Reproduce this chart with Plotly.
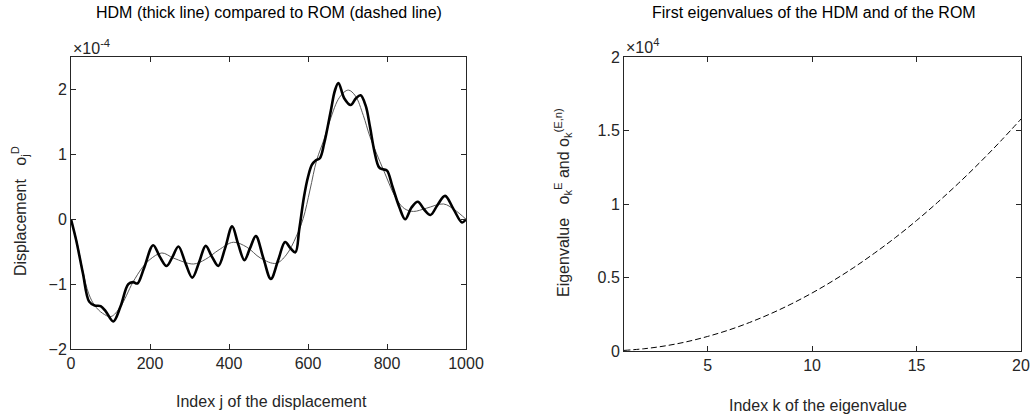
import plotly.graph_objects as go

# ---- Left panel data (displacement, units of 1e-4) ----
hdm_j = [0, 13, 30, 46, 60, 75, 88, 107, 125, 145, 157, 168, 185, 208, 225, 242, 257, 272,
         290, 307, 325, 341, 357, 373, 390, 408, 423, 439, 453, 468, 487, 506, 525, 542,
         556, 568, 578, 590, 600, 610, 620, 630, 641, 658, 668, 677, 692, 708, 721, 733,
         746, 757, 768, 780, 790, 800, 814, 831, 846, 862, 878, 894, 910, 928, 947, 968,
         990, 1000]
hdm_v = [0, -0.32, -0.83, -1.27, -1.33, -1.34, -1.42, -1.575, -1.35, -1.0, -0.97, -0.99,
         -0.75, -0.40, -0.58, -0.72, -0.58, -0.42, -0.68, -0.90, -0.65, -0.41, -0.58, -0.72,
         -0.45, -0.11, -0.38, -0.63, -0.45, -0.26, -0.60, -0.92, -0.62, -0.35, -0.45, -0.51,
         -0.15, 0.35, 0.65, 0.84, 0.91, 0.94, 1.17, 1.68, 1.98, 2.1, 1.86, 1.76, 1.86, 1.91,
         1.75, 1.42, 1.05, 0.80, 0.77, 0.75, 0.50, 0.19, 0.0, 0.18, 0.27, 0.15, 0.066, 0.22,
         0.36, 0.16, -0.05, 0.0]

rom_j = [0, 15, 30, 45, 60, 80, 101, 125, 156, 180, 200, 230, 260, 310, 340, 375, 411,
         445, 480, 519, 545, 570, 588, 605, 622, 640, 656, 680, 702, 720, 740, 757, 791,
         825, 845, 867, 900, 943, 970, 1000]
rom_v = [0, -0.35, -0.80, -1.15, -1.33, -1.45, -1.50, -1.35, -0.98, -0.75, -0.62, -0.52,
         -0.60, -0.69, -0.62, -0.47, -0.355, -0.43, -0.60, -0.68, -0.55, -0.27, 0.015, 0.45,
         0.91, 1.22, 1.53, 1.88, 1.99, 1.90, 1.60, 1.27, 0.76, 0.30, 0.16, 0.12, 0.17, 0.235,
         0.15, 0.0]

# ---- Right panel data (eigenvalues) ----
eig_k = list(range(1, 21))
eig_v = [40, 160, 355, 630, 990, 1420, 1935, 2525, 3195, 3945, 4775, 5680, 6670, 7730,
         8875, 10100, 11400, 12780, 14240, 15780]

left_xticks = [0, 200, 400, 600, 800, 1000]
left_yticks = [-2, -1, 0, 1, 2]
right_xticks = [5, 10, 15, 20]
right_yticks = [0, 0.5, 1, 1.5, 2]

W, H = 1032, 419
FONT = "Liberation Sans, Arial, sans-serif"
AX = "#262626"

fig = go.Figure()
fig.add_trace(go.Scatter(x=rom_j, y=rom_v, mode="lines", xaxis="x", yaxis="y",
                         line=dict(color="#595959", width=1, shape="spline", smoothing=1.0),
                         showlegend=False, hoverinfo="skip"))
fig.add_trace(go.Scatter(x=hdm_j, y=hdm_v, mode="lines", xaxis="x", yaxis="y",
                         line=dict(color="black", width=2.6, shape="spline", smoothing=1.0),
                         showlegend=False, hoverinfo="skip"))
fig.add_trace(go.Scatter(x=eig_k, y=[v / 1e4 for v in eig_v], mode="lines", xaxis="x2", yaxis="y2",
                         line=dict(color="black", width=1, dash="6px,3px", shape="spline"),
                         showlegend=False, hoverinfo="skip"))

def px_x(p):
    return p / W

def px_y(p):
    return 1 - p / H

common = dict(showgrid=False, zeroline=False, showline=True, linecolor=AX, linewidth=1,
              mirror="ticks", ticks="inside", ticklen=5, tickcolor=AX, automargin=False,
              tickfont=dict(family=FONT, size=16, color=AX))

fig.update_layout(
    width=W, height=H,
    margin=dict(l=0, r=0, t=0, b=0),
    paper_bgcolor="white", plot_bgcolor="white",
    xaxis=dict(domain=[px_x(71), px_x(466)], range=[0, 1000], tickvals=left_xticks,
               anchor="y", **common),
    yaxis=dict(domain=[px_y(349), px_y(57)], range=[-2, 2.5], tickvals=left_yticks,
               anchor="x", **common),
    xaxis2=dict(domain=[px_x(624), px_x(1021)], range=[1, 20], tickvals=right_xticks,
                anchor="y2", **common),
    yaxis2=dict(domain=[px_y(351), px_y(57)], range=[0, 2], tickvals=right_yticks,
                ticktext=["0", "0.5", "1", "1.5", "2"], anchor="x2", **common),
)

ann_font = dict(family=FONT, size=16, color=AX)
anns = [
    dict(text="HDM (thick line) compared to ROM (dashed line)", x=px_x(269), y=px_y(12),
         font=dict(family=FONT, size=16, color="black")),
    dict(text="First eigenvalues of the HDM and of the ROM", x=px_x(814), y=px_y(12),
         font=dict(family=FONT, size=16, color="black")),
    dict(text="Index j of the displacement", x=px_x(271), y=px_y(401), font=ann_font),
    dict(text="Index k of the eigenvalue", x=px_x(818), y=px_y(405), font=ann_font),
    dict(text="Displacement   o<sub>j</sub><sup>D</sup>", x=px_x(20), y=px_y(211),
         textangle=-90, font=ann_font),
    dict(text="Eigenvalue   o<sub>k</sub><sup>E</sup> and o<sub>k</sub><sup>(E,n)</sup>",
         x=px_x(563), y=px_y(203), textangle=-90, font=ann_font),
    dict(text="\u00d710<sup>-4</sup>", x=px_x(71), y=px_y(47), xanchor="left",
         font=dict(family=FONT, size=16, color=AX)),
    dict(text="\u00d710<sup>4</sup>", x=px_x(624), y=px_y(46), xanchor="left",
         font=dict(family=FONT, size=16, color=AX)),
]
for a in anns:
    a.setdefault("xanchor", "center")
    a.update(xref="paper", yref="paper", yanchor="middle", showarrow=False)
fig.update_layout(annotations=anns)

fig.write_html("out.html", config={"displayModeBar": False},
               post_script="document.body.style.margin='0px';"
                           "document.body.style.overflow='hidden';")
